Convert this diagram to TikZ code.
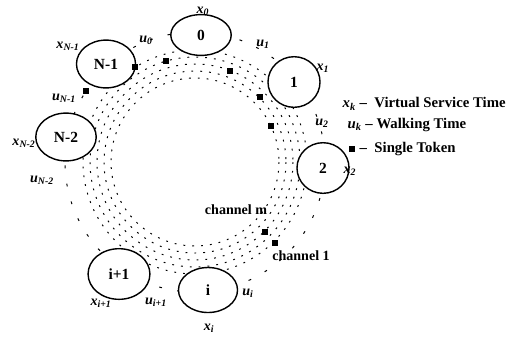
\documentclass[tikz,border=0pt]{standalone}
\usepackage{fontspec}
\setmainfont{Liberation Serif}
\usetikzlibrary{shapes.geometric}
\tikzstyle{station} = [ellipse, draw = black, line width = 1pt, fill = white, inner sep = 0pt, font = \fontsize{11}{13}\selectfont\bfseries]
\tikzstyle{token} = [rectangle, fill = black, inner sep = 0pt, minimum size = 4pt]
\tikzstyle{lbl} = [inner sep = 1pt, font = \bfseries]
\tikzstyle{channel} = [line width = 0.7pt, dash pattern = on 1.3pt off 5pt]
\newcommand{\tm}[2]{\textbf{\textit{#1}}\textsubscript{\textbf{\textit{#2}}}}

\begin{document}
\begin{tikzpicture}[x = 0.025cm, y = -0.025cm]
	\useasboundingbox (0,0) rectangle (517,338);
	\coordinate (c) at (195,162);

	% channels and walking ring
	\foreach \r in {84,91,98,105,112}
		\draw [channel] (c) circle (\r);
	\draw [line width = 0.7pt, dash pattern = on 2pt off 11pt] (c) circle (130);

	% stations
	\node (s0)[station, minimum width = 43, minimum height = 29] at (201,35) {0};
	\node (s1)[station, minimum width = 37, minimum height = 36] at (294,82) {1};
	\node (s2)[station, minimum width = 37, minimum height = 36] at (323,168) {2};
	\node (si)[station, minimum width = 42, minimum height = 32] at (208,290) {i};
	\node (sip)[station, minimum width = 44, minimum height = 36] at (119,274) {i+1};
	\node (sn2)[station, minimum width = 43, minimum height = 34] at (66,137) {N-2};
	\node (sn1)[station, minimum width = 42, minimum height = 34] at (106,64) {N-1};

	% tokens
	\node (t1)[token] at (135,67) {};
	\node (t2)[token] at (166,61) {};
	\node (t3)[token] at (230,71) {};
	\node (t4)[token] at (260,97) {};
	\node (t5)[token] at (271,126) {};
	\node (t6)[token] at (265,232) {};
	\node (t7)[token] at (275,243) {};
	\node (t8)[token] at (86,91) {};

	% times
	\node (x0)[lbl] at (203,11) {\tm{x}{0}};
	\node (x1)[lbl] at (323,68) {\tm{x}{1}};
	\node (x2)[lbl] at (350,171) {\tm{x}{2}};
	\node (xi)[lbl] at (209,328) {\tm{x}{i}};
	\node (xip)[lbl] at (101,303) {\tm{x}{i+1}};
	\node (xn2)[lbl] at (24,143) {\tm{x}{N-2}};
	\node (xn1)[lbl] at (68,46) {\tm{x}{N-1}};
	\node (u0)[lbl] at (146,40) {\tm{u}{0}};
	\node (u1)[lbl] at (263,44) {\tm{u}{1}};
	\node (u2)[lbl] at (322,123) {\tm{u}{2}};
	\node (ui)[lbl] at (248,293) {\tm{u}{i}};
	\node (uip)[lbl] at (156,302) {\tm{u}{i+1}};
	\node (un2)[lbl] at (42,180) {\tm{u}{N-2}};
	\node (un1)[lbl] at (64,98) {\tm{u}{N-1}};

	\node (chm)[lbl] at (236,210) {channel m};
	\node (ch1)[lbl] at (301,256) {channel 1};

	% legend
	\node (lx)[lbl, anchor = west, font = \fontsize{10.5}{12}\selectfont\bfseries] at (341,104) {\tm{x}{k}\ --\ \ Virtual Service Time};
	\node (lu)[lbl, anchor = west, font = \fontsize{10.5}{12}\selectfont\bfseries] at (346,125) {\tm{u}{k} -- Walking Time};
	\node (lt)[token] at (352,149) {};
	\node (ltt)[lbl, anchor = west, font = \fontsize{10.5}{12}\selectfont\bfseries] at (358,149) {--\ \ Single Token};
\end{tikzpicture}
\end{document}
